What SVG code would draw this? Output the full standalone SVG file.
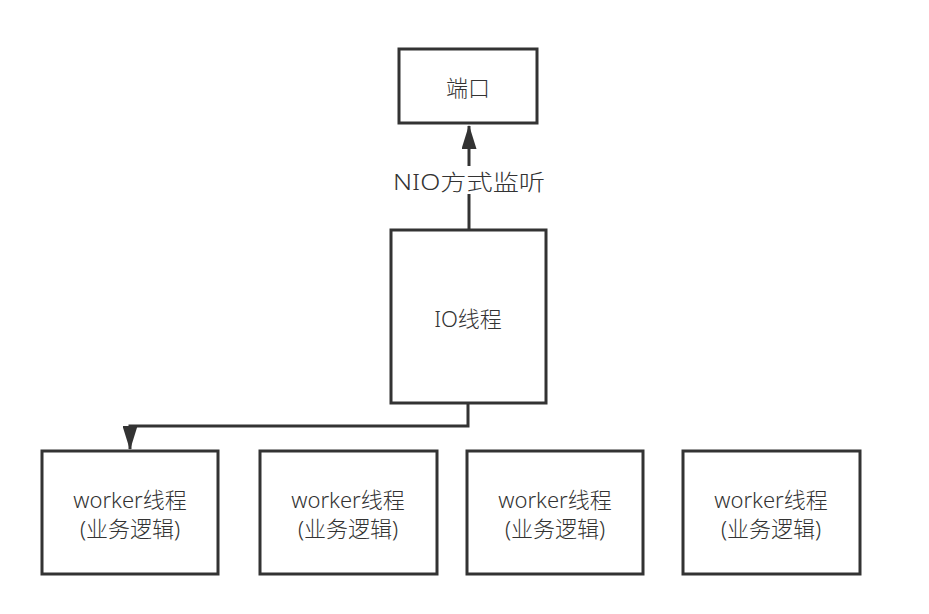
<svg xmlns="http://www.w3.org/2000/svg" width="929" height="614" viewBox="0 0 929 614">
<defs>
<style>
.box{fill:#fff;stroke:#333;stroke-width:3}
.t{font-family:"Noto Sans","Noto Sans CJK SC",sans-serif;font-size:22px;font-weight:300;fill:#333;text-anchor:middle;dominant-baseline:central}
.c{fill:none;stroke:#333;stroke-width:3}
</style>
<marker id="ah" viewBox="0 0 24 15" refX="23" refY="7.5" markerWidth="24" markerHeight="15" orient="auto" markerUnits="userSpaceOnUse">
<path d="M0,0 L24,7.5 L0,15 z" fill="#333"/>
</marker>
</defs>
<rect width="929" height="614" fill="#fff"/>
<g id="connectors">
<path class="c" d="M469,230 V126" marker-end="url(#ah)"/>
<rect x="380" y="166" width="176" height="28" fill="#fff"/>
<text class="t" x="469" y="181" textLength="152" lengthAdjust="spacingAndGlyphs">NIO方式监听</text>
<path class="c" d="M468,403 V426 H130 V449" marker-end="url(#ah)"/>
</g>
<g id="port">
<rect class="box" x="399" y="49" width="138" height="74"/>
<text class="t" x="468" y="87">端口</text>
</g>
<g id="io">
<rect class="box" x="391" y="230" width="155" height="173"/>
<text class="t" x="468" y="318">IO线程</text>
</g>
<g id="worker1">
<rect class="box" x="42" y="451" width="176" height="123"/>
<text class="t" x="130" y="499">worker线程</text>
<text class="t" x="130" y="528">(业务逻辑)</text>
</g>
<g id="worker2">
<rect class="box" x="260" y="451" width="177" height="123"/>
<text class="t" x="348" y="499">worker线程</text>
<text class="t" x="348" y="528">(业务逻辑)</text>
</g>
<g id="worker3">
<rect class="box" x="467" y="451" width="176" height="123"/>
<text class="t" x="555" y="499">worker线程</text>
<text class="t" x="555" y="528">(业务逻辑)</text>
</g>
<g id="worker4">
<rect class="box" x="683" y="451" width="177" height="123"/>
<text class="t" x="771" y="499">worker线程</text>
<text class="t" x="771" y="528">(业务逻辑)</text>
</g>
</svg>
